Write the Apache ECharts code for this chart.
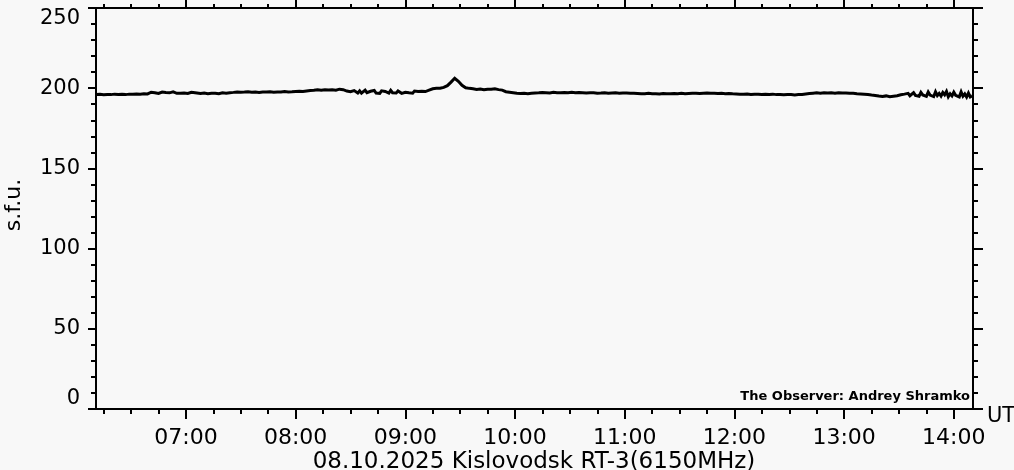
<!DOCTYPE html>
<html>
<head>
<meta charset="utf-8">
<script src="https://cdn.jsdelivr.net/npm/echarts@6/dist/echarts.min.js"></script>
<style>
html,body{margin:0;padding:0;background:#f8f8f8;}
#chart{width:1014px;height:470px;}
</style>
</head>
<body>
<div id="chart"></div>
<script>
// Sampling times (UT) of the flux record (denser where the record is noisy)
const times = [
"06:11","06:13","06:15","06:17","06:19","06:21","06:23","06:25","06:27","06:29","06:31","06:33","06:35","06:37","06:39",
"06:40","06:41","06:42","06:43","06:44","06:45","06:46","06:47","06:48","06:49","06:50","06:51","06:52","06:53","06:54","06:55","06:56","06:57","06:58","06:59",
"07:00","07:01","07:02","07:03","07:04","07:05","07:06",
"07:08","07:10","07:12","07:14","07:16","07:18","07:20","07:22","07:24",
"07:26","07:28","07:30","07:32","07:34","07:36","07:38","07:40","07:42","07:44","07:46","07:48","07:50","07:52","07:54","07:56","07:58",
"08:00","08:02","08:04","08:06","08:08",
"08:09","08:10","08:11","08:12","08:13","08:14","08:15","08:16","08:17","08:18","08:19","08:20","08:21","08:22","08:23","08:24","08:25","08:26","08:27",
"08:28","08:29","08:30","08:31","08:32","08:33","08:34","08:35","08:36","08:37","08:38","08:39","08:40","08:41","08:42","08:43","08:44","08:45","08:46","08:47","08:48","08:49","08:50","08:51","08:52","08:53","08:54","08:55","08:56","08:57","08:58","08:59",
"09:00","09:01","09:02","09:03","09:04","09:05","09:06","09:07","09:08","09:09","09:10","09:11","09:12","09:13",
"09:15","09:17","09:19","09:21","09:23","09:25","09:27","09:29","09:31","09:33","09:35","09:37","09:39","09:41","09:43","09:45","09:47","09:49","09:51","09:53","09:55","09:57","09:59",
"10:01","10:03","10:05","10:07","10:09","10:11","10:13","10:15","10:17","10:19","10:21","10:23","10:25","10:27","10:29","10:31","10:33","10:35","10:37","10:39","10:41","10:43","10:45","10:47","10:49","10:51","10:53","10:55","10:57","10:59",
"11:01","11:03","11:05","11:07","11:09","11:11","11:13","11:15","11:17","11:19","11:21","11:23","11:25","11:27","11:29","11:31","11:33","11:35","11:37","11:39","11:41","11:43","11:45","11:47","11:49","11:51","11:53","11:55","11:57","11:59",
"12:01","12:03","12:05","12:07","12:09","12:11","12:13","12:15","12:17","12:19","12:21","12:23","12:25","12:27","12:29","12:31","12:33","12:35","12:37","12:39","12:41","12:43","12:45","12:47","12:49","12:51","12:53","12:55","12:57","12:59",
"13:01","13:03","13:05","13:07","13:09","13:11","13:13","13:15","13:17","13:19","13:21","13:23","13:25","13:27","13:29",
"13:30","13:31","13:32","13:33","13:34","13:35","13:36","13:37","13:38","13:39","13:40","13:41","13:42","13:43","13:44","13:45","13:46","13:47","13:48","13:49","13:50","13:51","13:52","13:53","13:54","13:55","13:56","13:57","13:58","13:59",
"14:00","14:01","14:02","14:03","14:04","14:05","14:06","14:07","14:08","14:09","14:10"
];
// Flux values, s.f.u.
const flux = [
196.0,196.2,195.9,196.1,196.0,196.3,196.1,196.2,196.0,196.3,196.2,196.4,196.3,196.5,196.4,
196.9,197.5,196.6,197.2,197.8,196.7,197.0,197.6,196.5,197.3,197.9,197.1,196.6,197.7,197.2,196.8,197.6,196.9,197.4,197.0,
197.8,196.7,197.3,197.5,196.9,197.2,196.8,
196.7,197.0,196.6,196.9,196.8,196.5,197.1,196.9,197.2,
197.4,197.7,197.5,197.6,197.8,197.5,197.6,197.4,197.7,197.6,197.8,197.5,197.7,197.6,197.9,197.7,197.8,
198.0,198.1,197.9,198.3,198.6,
199.2,198.7,199.6,199.0,199.4,198.8,199.7,199.1,199.3,198.9,199.5,199.0,199.6,198.8,199.2,199.4,198.7,199.1,198.6,
198.2,197.1,197.8,196.8,198.5,197.4,197.0,198.3,196.9,197.7,198.8,197.2,196.7,198.1,197.5,198.6,197.0,197.9,196.8,198.4,197.3,198.0,197.6,196.9,198.7,197.2,197.8,197.0,198.3,197.4,196.8,198.0,
197.5,198.4,197.1,197.8,196.9,198.2,197.4,197.9,197.2,198.1,197.6,197.9,198.4,198.8,
199.6,199.9,200.0,200.5,201.6,203.8,206.2,204.3,201.8,200.3,199.9,199.6,199.2,199.5,199.0,199.4,199.3,199.6,199.1,198.8,197.8,197.5,197.2,
196.9,196.7,196.8,196.6,196.9,197.0,197.1,197.3,197.2,197.0,197.4,197.2,197.1,197.3,197.2,197.5,197.1,197.3,197.2,197.0,197.2,197.1,196.9,197.0,197.2,196.8,197.0,197.1,196.9,197.0,
197.0,196.9,196.8,196.7,196.5,196.6,196.8,196.5,196.6,196.4,196.7,196.6,196.5,196.7,196.6,196.8,196.6,196.7,196.8,196.9,196.7,196.9,197.0,196.8,196.9,196.7,196.8,196.6,196.7,196.5,
196.4,196.3,196.2,196.4,196.1,196.3,196.2,196.0,196.2,196.1,196.3,196.0,196.1,195.9,196.1,196.0,195.8,196.0,196.1,196.4,196.7,196.9,197.1,196.9,197.2,197.0,197.1,196.9,197.2,197.0,
197.0,196.8,196.9,196.6,196.4,196.2,196.0,195.7,195.5,195.1,194.8,195.2,194.7,195.0,195.3,
195.4,195.9,195.2,196.3,195.6,196.8,195.3,196.1,197.2,195.5,196.6,195.0,197.4,195.8,196.9,194.9,197.6,195.7,196.3,194.8,197.8,195.4,196.7,195.1,197.3,195.9,198.0,194.7,196.5,195.2,
197.5,195.6,196.8,194.6,197.7,195.0,196.4,194.5,197.0,194.6,195.2
];
const hourTicks = ["07:00","08:00","09:00","10:00","11:00","12:00","13:00","14:00"];
const quarterTicks = ["06:15","06:30","06:45","07:00","07:15","07:30","07:45","08:00","08:15","08:30","08:45","09:00","09:15","09:30","09:45","10:00","10:15","10:30","10:45","11:00","11:15","11:30","11:45","12:00","12:15","12:30","12:45","13:00","13:15","13:30","13:45","14:00"];
const axisStart = "06:10.8";
const axisEnd = "14:10.5";
const yTicks = [0, 50, 100, 150, 200, 250];
const titleText = "08.10.2025 Kislovodsk RT-3(6150MHz)";
const observerText = "The Observer: Andrey Shramko";
const yName = "s.f.u.";
const xUnit = "UT";

function toMin(s){ const p = s.split(":"); return (+p[0]) * 60 + parseFloat(p[1]); }
function fmt(m){ const h = Math.floor(m/60), mm = Math.round(m - h*60); return String(h).padStart(2,"0") + ":" + String(mm).padStart(2,"0"); }

const seriesData = times.map((t, i) => [toMin(t), flux[i]]);
const hourVals = hourTicks.map(toMin);
const quarterVals = quarterTicks.map(toMin);
const xMin = toMin(axisStart), xMax = toMin(axisEnd);

const chart = echarts.init(document.getElementById("chart"), null, {renderer: "canvas"});
const FONT = "DejaVu Sans";
const black = "#000";
function xAx(pos, vals, len, opts){
  return Object.assign({
    type: "value", position: pos, min: xMin, max: xMax,
    axisLine: {show: true, lineStyle: {color: black, width: 2}},
    axisTick: {show: true, inside: false, length: len, customValues: vals, lineStyle: {color: black, width: 2}},
    axisLabel: {show: false},
    splitLine: {show: false}
  }, opts || {});
}
chart.setOption({
  backgroundColor: "#f8f8f8",
  animation: false,
  grid: {left: 96, right: 41, top: 8, bottom: 61, containLabel: false},
  xAxis: [
    xAx("bottom", hourVals, 10, {
      axisLabel: {show: true, customValues: hourVals, formatter: v => fmt(v), color: black,
        fontFamily: FONT, fontSize: 22, margin: 18}
    }),
    xAx("bottom", quarterVals, 5, {axisLine: {show: false}}),
    xAx("top", hourVals, 8),
    xAx("top", quarterVals, 4, {axisLine: {show: false}})
  ],
  yAxis: [
    {
      type: "value", position: "left", min: yTicks[0], max: yTicks[yTicks.length-1], interval: 50,
      axisLine: {show: true, lineStyle: {color: black, width: 2}},
      axisTick: {show: true, length: 8, lineStyle: {color: black, width: 2}},
      minorTick: {show: true, splitNumber: 5, length: 5, lineStyle: {color: black, width: 2}},
      splitLine: {show: false},
      axisLabel: {color: black, fontFamily: FONT, fontSize: 21, margin: 16,
        verticalAlignMinLabel: "bottom", verticalAlignMaxLabel: "top"}
    },
    {
      type: "value", position: "right", min: yTicks[0], max: yTicks[yTicks.length-1], interval: 50,
      axisLine: {show: true, lineStyle: {color: black, width: 2}},
      axisTick: {show: true, length: 10, lineStyle: {color: black, width: 2}},
      minorTick: {show: true, splitNumber: 5, length: 5, lineStyle: {color: black, width: 2}},
      splitLine: {show: false},
      axisLabel: {show: false}
    }
  ],
  series: [{
    type: "line", xAxisIndex: 0, yAxisIndex: 0, data: seriesData,
    showSymbol: false, symbol: "none",
    lineStyle: {color: black, width: 3, join: "miter"}
  }],
  graphic: [
    {type: "text", x: 14, y: 205, rotation: Math.PI/2,
      style: {text: yName, fill: black, font: "22px 'DejaVu Sans'", align: "center", verticalAlign: "middle"}},
    {type: "text", x: 534, y: 451,
      style: {text: titleText, fill: black, font: "23px 'DejaVu Sans'", align: "center", verticalAlign: "top"}},
    {type: "text", x: 987, y: 406,
      style: {text: xUnit, fill: black, font: "21px 'DejaVu Sans'", align: "left", verticalAlign: "top"}},
    {type: "text", x: 970, y: 397,
      style: {text: observerText, fill: black, font: "bold 13px 'DejaVu Sans'", align: "right", verticalAlign: "middle"}}
  ]
});
</script>
</body>
</html>
